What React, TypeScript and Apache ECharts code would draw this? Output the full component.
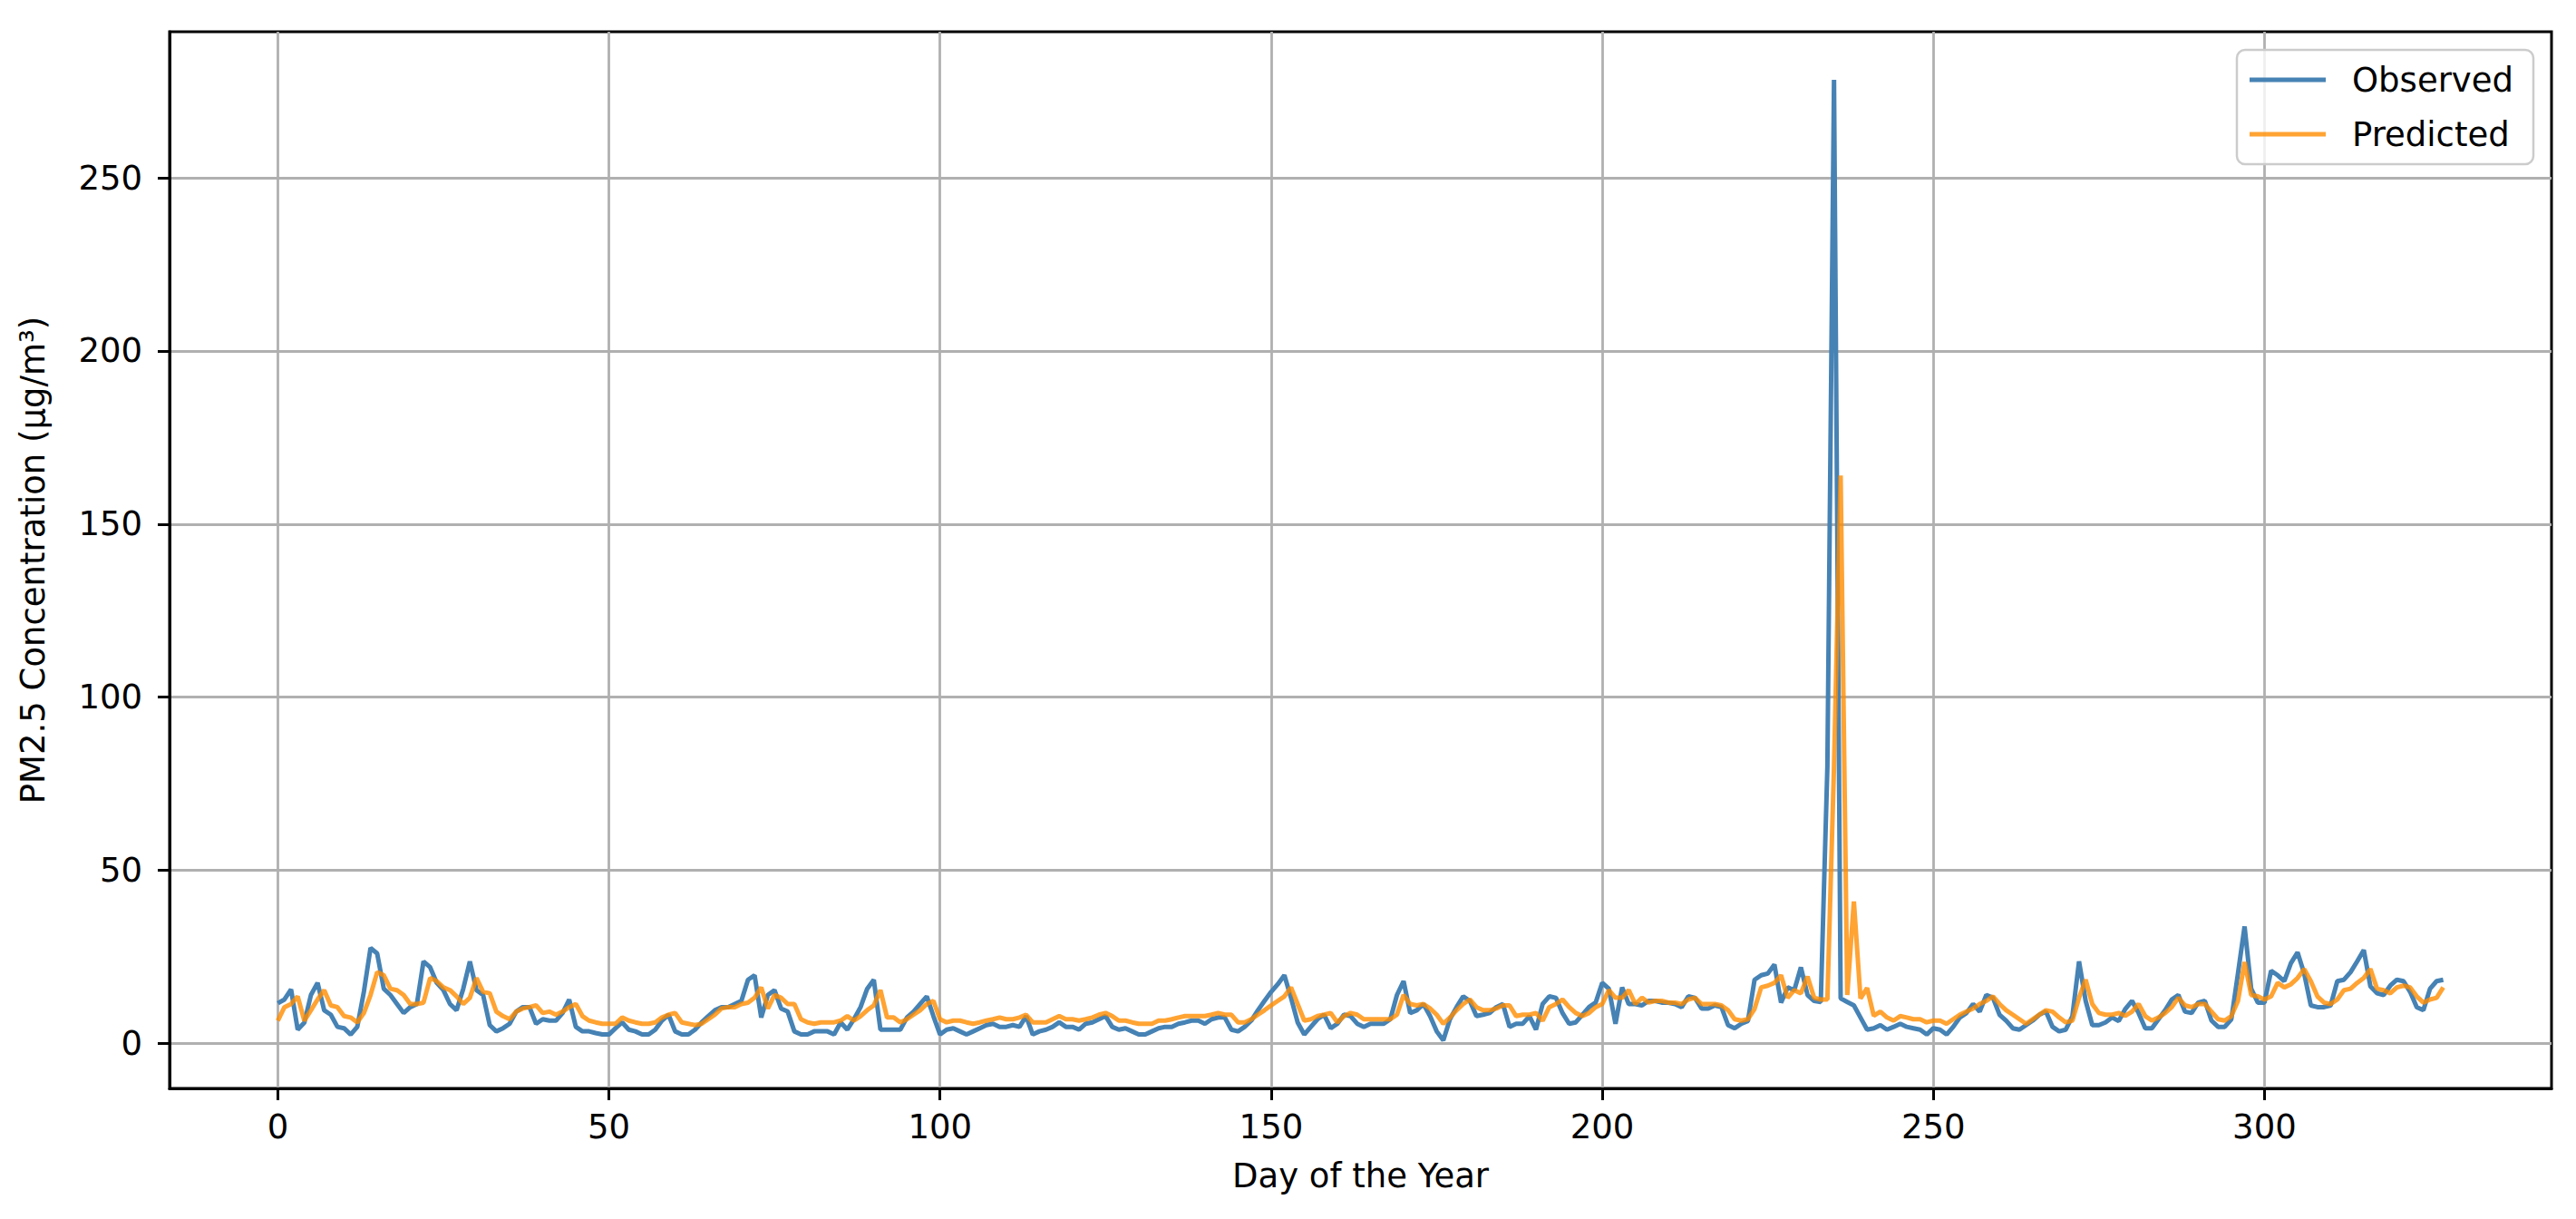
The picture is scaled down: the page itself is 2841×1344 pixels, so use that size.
import React, { useEffect, useRef } from "react";
import * as echarts from "echarts";

const OBSERVED: number[] = [
  11.6, 12.7, 15.6, 4, 6, 14, 17.5, 9.6, 8.3, 4.8,
  4.4, 2.6, 4.8, 15, 27.6, 26, 15.8, 14, 11.4, 8.8,
  10.5, 11.4, 23.7, 22, 17.5, 15.4, 11.4, 9.6, 15.8, 23.7,
  15.4, 14, 5.3, 3.5, 4.4, 5.7, 9.2, 10.5, 10.5, 5.7,
  7, 6.6, 6.6, 8.8, 12.7, 4.8, 3.5, 3.5, 3, 2.6,
  2.6, 4.4, 6.1, 4, 3.5, 2.6, 2.6, 4, 6.6, 8.3,
  3.5, 2.6, 2.6, 4, 6.1, 7.9, 9.6, 10.5, 10.5, 11.4,
  12.3, 18.4, 19.7, 7.5, 14, 15.4, 10.1, 9.2, 3.5, 2.6,
  2.6, 3.5, 3.5, 3.5, 2.6, 6.1, 4, 7, 10.5, 15.8,
  18.4, 4, 4, 4, 4, 7.5, 9.2, 11.4, 13.6, 7.9,
  2.6, 4, 4.4, 3.5, 2.6, 3.5, 4.4, 5.3, 5.7, 4.8,
  4.8, 5.3, 4.8, 7.9, 2.6, 3.5, 4, 4.8, 6.1, 4.8,
  4.8, 4, 5.7, 6.1, 7, 7.9, 4.8, 4, 4.4, 3.5,
  2.6, 2.6, 3.5, 4.4, 4.8, 4.8, 5.7, 6.1, 6.6, 6.6,
  5.7, 7, 7.5, 7.5, 4, 3.5, 4.8, 6.6, 9.6, 12.3,
  14.9, 17.1, 19.7, 13.2, 6.1, 2.6, 4.8, 7, 8.3, 4.4,
  5.7, 8.3, 7.9, 5.7, 4.8, 5.7, 5.7, 5.7, 7, 14,
  18, 8.8, 9.6, 11.4, 7.9, 3.5, 0.9, 7, 10.5, 13.6,
  12.3, 7.9, 8.3, 8.8, 10.5, 11.4, 4.8, 5.7, 5.7, 7.9,
  4, 11.4, 13.6, 13.2, 8.8, 5.7, 6.1, 8.3, 10.5, 11.8,
  17.5, 15.8, 5.7, 16.2, 11.4, 11.4, 11, 12.3, 12.3, 11.8,
  11.8, 11.4, 10.5, 13.6, 13.2, 10.1, 10.1, 11, 10.5, 5.3,
  4.4, 5.7, 6.5, 18.4, 19.7, 20.2, 22.8, 11.8, 16.2, 15.4,
  22, 14, 12.3, 12, 80, 278.3, 13, 12, 11, 7.5,
  4, 4.4, 5.3, 4, 4.8, 5.7, 4.8, 4.4, 4, 2.6,
  4.4, 4, 2.6, 4.8, 7.5, 8.8, 11.4, 9.2, 14, 13.2,
  8.3, 6.6, 4.4, 4, 5.3, 6.6, 8.3, 9.2, 4.8, 3.5,
  4, 7.9, 23.7, 12.3, 5.3, 5.3, 6.1, 7.5, 6.5, 10,
  12.3, 8.8, 4.4, 4.4, 7, 9.6, 12.7, 14, 9.2, 8.8,
  11.8, 12.3, 6.6, 4.8, 4.8, 7, 20.2, 33.8, 15.8, 11.8,
  11.8, 21, 19.7, 18, 23.2, 26.3, 20.2, 11, 10.5, 10.5,
  11, 18, 18.4, 20.6, 23.7, 27, 16.5, 14.5, 14, 16.7,
  18.4, 18, 14.9, 10.5, 9.6, 15.8, 18, 18.4,
];

const PREDICTED: number[] = [
  6.6, 10.5, 11.4, 13.6, 6.6, 9.6, 12.7, 15.4, 11, 10.5,
  7.9, 7.5, 6.1, 8.8, 14, 20.6, 19.7, 15.8, 15.4, 14,
  11.4, 11.4, 11.8, 18.9, 18, 16.2, 15.4, 13.6, 11.4, 13.2,
  18.9, 14.9, 14.5, 9.2, 7.9, 7, 9.2, 10.1, 10.5, 11,
  8.8, 9.2, 8.3, 9.2, 10.5, 11.4, 7.9, 6.6, 6.1, 5.7,
  5.7, 5.7, 7.5, 6.6, 6.1, 5.7, 5.7, 6.1, 7.5, 8.3,
  8.8, 6.1, 5.7, 5.3, 5.7, 7, 8.3, 10.1, 10.5, 10.5,
  11.4, 11.8, 13.2, 16.2, 10.1, 14, 13.2, 11.4, 11.4, 7,
  6.1, 5.7, 6.1, 6.1, 6.1, 6.6, 7.9, 6.6, 7.9, 9.6,
  11, 15.4, 7.5, 7.5, 6.1, 7, 8.3, 9.6, 11.4, 12.3,
  7, 6.1, 6.6, 6.6, 6.1, 5.7, 6.1, 6.6, 7, 7.5,
  7, 7, 7.5, 8.3, 6.1, 6.1, 6.1, 7, 7.9, 7,
  7, 6.6, 7, 7.5, 8.3, 8.8, 7.9, 6.6, 6.6, 6.1,
  5.7, 5.7, 5.7, 6.6, 6.6, 7, 7.5, 7.9, 7.9, 7.9,
  7.9, 8.3, 8.8, 8.3, 8.3, 6.1, 6.1, 7, 8.3, 9.6,
  11, 12.3, 13.6, 16.2, 11.4, 6.6, 7, 7.9, 8.3, 8.8,
  6.1, 7.9, 8.8, 8.3, 7, 7, 7, 7, 7, 8.3,
  14, 11.4, 11, 11.4, 10.1, 8.3, 5.7, 7.5, 9.6, 11.4,
  12.7, 10.5, 9.6, 9.6, 10.1, 11, 11, 7.9, 8.3, 8.3,
  8.8, 6.6, 10.5, 11.4, 12.7, 10.5, 8.8, 7.9, 8.8, 10.5,
  11.4, 15.4, 13.2, 13.2, 15.4, 11.4, 13.2, 11.8, 12.3, 12.3,
  11.8, 11.8, 11.4, 12.7, 13.2, 11.4, 11.4, 11.4, 11, 9.6,
  7, 6.6, 7, 10, 16.2, 16.7, 17.5, 19.7, 13.2, 15.4,
  14.5, 19.3, 13.2, 12.7, 12.7, 80, 164, 14, 41, 13,
  16, 8, 9.2, 7.5, 6.6, 7.9, 7.5, 7, 7, 6.1,
  6.6, 6.6, 5.7, 7, 8.3, 9.2, 10.1, 11.4, 12.3, 13.6,
  11.4, 9.6, 8.3, 7, 5.7, 7, 8.3, 9.6, 9.2, 7.5,
  6.1, 6.6, 13.2, 18.4, 11.4, 8.8, 8.3, 8.3, 8.8, 8,
  9.2, 11.4, 7.9, 6.6, 7.5, 8.8, 10.5, 13.2, 11, 10.5,
  11.4, 11.4, 9.2, 7, 6.6, 7.9, 12.3, 23.5, 14, 13.6,
  12.7, 13.6, 17.5, 16.2, 17.1, 18.9, 21.5, 18, 13.6, 11.8,
  11.4, 12.7, 15.4, 15.8, 17.5, 18.9, 21.5, 15.8, 15.4, 14.5,
  16.2, 16.7, 16.2, 13.6, 11.8, 12.7, 13.2, 16.2,
];

const X_TICKS: number[] = [0, 50, 100, 150, 200, 250, 300];
const Y_TICKS: number[] = [0, 50, 100, 150, 200, 250];

const SERIES_NAMES = ["Observed", "Predicted"];
const X_LABEL = "Day of the Year";
const Y_LABEL = "PM2.5 Concentration (μg/m³)";

const FONT = "DejaVu Sans";

export default function App() {
  const ref = useRef<HTMLDivElement>(null);

  useEffect(() => {
    if (!ref.current) return;
    const chart = echarts.init(ref.current, undefined, { renderer: "svg" });

    const n = OBSERVED.length;
    const span = n - 1;
    const xMin = -0.05 * span;
    const xMax = span + 0.05 * span;
    const allVals = OBSERVED.concat(PREDICTED);
    const lo = Math.min(...allVals);
    const hi = Math.max(...allVals);
    const yMin = lo - 0.05 * (hi - lo);
    const yMax = hi + 0.05 * (hi - lo);

    const obsData = OBSERVED.map((v, i) => [i, v]);
    const predData = PREDICTED.map((v, i) => [i, v]);

    const labelStyle = { fontFamily: FONT, fontSize: 37, color: "#000" };

    chart.setOption({
      animation: false,
      backgroundColor: "#fff",
      grid: {
        left: 187,
        right: 27,
        top: 35,
        bottom: 144,
        show: true,
        borderColor: "#000",
        borderWidth: 3,
        backgroundColor: "transparent",
      },
      legend: {
        orient: "vertical",
        right: 47,
        top: 55,
        icon: "rect",
        itemWidth: 84,
        itemHeight: 5,
        itemGap: 20,
        padding: [13, 22, 13, 14],
        borderColor: "#cccccc",
        borderWidth: 2.5,
        borderRadius: 9,
        backgroundColor: "rgba(255,255,255,0.8)",
        textStyle: { ...labelStyle, lineHeight: 40, padding: [0, 0, 0, 24] },
        data: SERIES_NAMES,
      },
      xAxis: {
        type: "value",
        min: xMin,
        max: xMax,
        splitNumber: 7,
        name: X_LABEL,
        nameLocation: "middle",
        nameGap: 78,
        nameTextStyle: labelStyle,
        axisLine: { show: true, onZero: false, lineStyle: { color: "#000", width: 3 } },
        axisTick: {
          show: true,
          length: 13,
          customValues: X_TICKS,
          lineStyle: { color: "#000", width: 3 },
        },
        axisLabel: {
          ...labelStyle,
          margin: 24,
          customValues: X_TICKS,
        },
        splitLine: { show: true, lineStyle: { color: "#b0b0b0", width: 2.8 } },
      },
      yAxis: {
        type: "value",
        min: yMin,
        max: yMax,
        splitNumber: 6,
        name: Y_LABEL,
        nameLocation: "middle",
        nameGap: 132,
        nameTextStyle: labelStyle,
        axisLine: { show: true, onZero: false, lineStyle: { color: "#000", width: 3 } },
        axisTick: {
          show: true,
          length: 13,
          customValues: Y_TICKS,
          lineStyle: { color: "#000", width: 3 },
        },
        axisLabel: {
          ...labelStyle,
          margin: 30,
          customValues: Y_TICKS,
        },
        splitLine: { show: true, lineStyle: { color: "#b0b0b0", width: 2.8 } },
      },
      series: [
        {
          name: SERIES_NAMES[0],
          type: "line",
          data: obsData,
          symbol: "none",
          color: "#4682b4",
          lineStyle: { width: 5, color: "#4682b4" },
          itemStyle: { color: "#4682b4" },
          z: 2,
        },
        {
          name: SERIES_NAMES[1],
          type: "line",
          data: predData,
          symbol: "none",
          color: "rgba(255,140,0,0.8)",
          lineStyle: { width: 5, color: "rgba(255,140,0,0.8)" },
          itemStyle: { color: "rgba(255,140,0,0.8)" },
          z: 3,
        },
      ],
    });

    return () => chart.dispose();
  }, []);

  return (
    <div
      ref={ref}
      style={{ position: "absolute", left: 0, top: 0, width: 2841, height: 1344 }}
    />
  );
}
